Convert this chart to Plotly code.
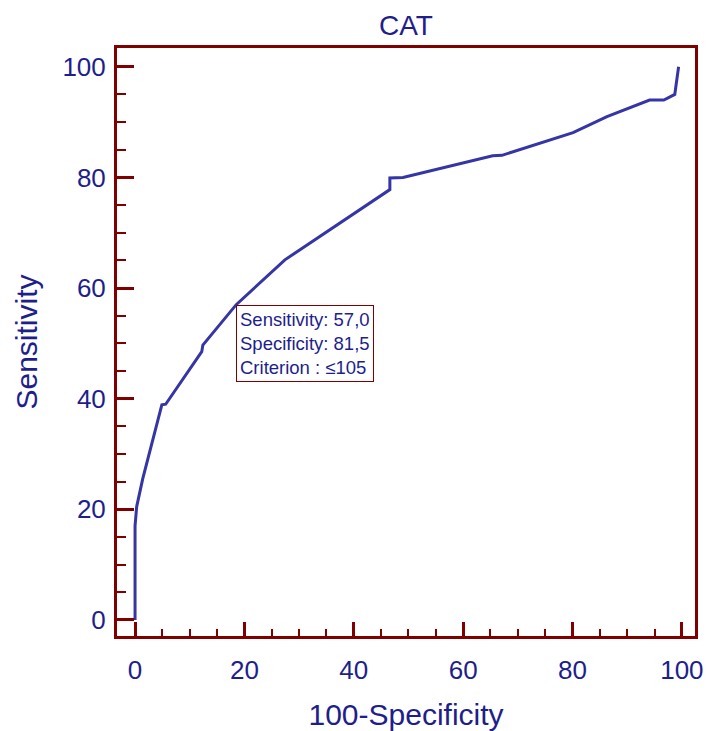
import plotly.graph_objects as go

# ROC curve points (100-Specificity, Sensitivity)
fpr = [0, 0, 0.3, 0.8, 1.4, 4.9, 5.6, 12.2, 12.4, 18.5, 27.4, 46.6, 46.6, 49.0,
       65.4, 67.1, 80.1, 86.3, 94.1, 96.7, 98.7, 99.4]
tpr = [0, 17, 20.5, 23, 25.5, 38.9, 39.0, 48.5, 49.7, 57.0, 65.1, 77.8, 79.9, 80.0,
       83.9, 84.0, 88.1, 91.0, 94.0, 94.0, 95.0, 100]

tick_vals = [0, 20, 40, 60, 80, 100]
tick_text = ["0", "20", "40", "60", "80", "100"]

point_x = 18.5
point_y = 57.0
point_text = "Sensitivity: 57,0<br>Specificity: 81,5<br>Criterion : \u2264105"

BLUE_TXT = "#1e1e8c"
LINE_BLUE = "#3535a5"
RED = "#800000"
FONT = "Liberation Sans, Arial, sans-serif"

fig = go.Figure()
fig.add_trace(go.Scatter(x=fpr, y=tpr, mode="lines",
                         line=dict(color=LINE_BLUE, width=3),
                         showlegend=False, hoverinfo="skip"))

fig.add_annotation(x=point_x, y=point_y, xref="x", yref="y", text=point_text,
                   showarrow=False, xanchor="left", yanchor="top", align="left",
                   font=dict(family=FONT, size=18.5, color=BLUE_TXT),
                   bordercolor=RED, borderwidth=1, borderpad=3, bgcolor="white")

axis_common = dict(
    showline=True, linecolor=RED, linewidth=3, mirror=True,
    showgrid=False, zeroline=False, automargin=False,
    ticks="inside", tickcolor=RED, tickwidth=3,
    tickmode="array", tickvals=tick_vals, ticktext=tick_text,
    tickfont=dict(family=FONT, size=26, color=BLUE_TXT),
    ticklabeloverflow="allow",
)

fig.update_xaxes(**axis_common, range=[-3.3, 102.4], ticklen=14,
                 minor=dict(dtick=5, tick0=0, ticks="inside", ticklen=7,
                            tickcolor=RED, tickwidth=2, showgrid=False),
                 ticklabelstandoff=9,
                 title=dict(text="100-Specificity",
                            font=dict(family=FONT, size=30, color=BLUE_TXT),
                            standoff=21))
fig.update_yaxes(**axis_common, range=[-2.9, 103.4], ticklen=17,
                 minor=dict(dtick=5, tick0=0, ticks="inside", ticklen=9,
                            tickcolor=RED, tickwidth=2, showgrid=False),
                 ticklabelstandoff=3,
                 title=dict(text="Sensitivity",
                            font=dict(family=FONT, size=30, color=BLUE_TXT),
                            standoff=16))

fig.update_layout(
    width=707, height=731,
    margin=dict(l=117, r=12, t=48, b=95),
    paper_bgcolor="white", plot_bgcolor="white",
    title=dict(text="CAT", x=(117 + 695) / 2 / 707, xanchor="center",
               y=1 - 25 / 731, yanchor="middle", yref="container",
               font=dict(family=FONT, size=28, color=BLUE_TXT)),
    showlegend=False,
)

fig.write_html("out.html", config={"displayModeBar": False},
               post_script="document.body.style.margin='0px';document.body.style.overflow='hidden';")
